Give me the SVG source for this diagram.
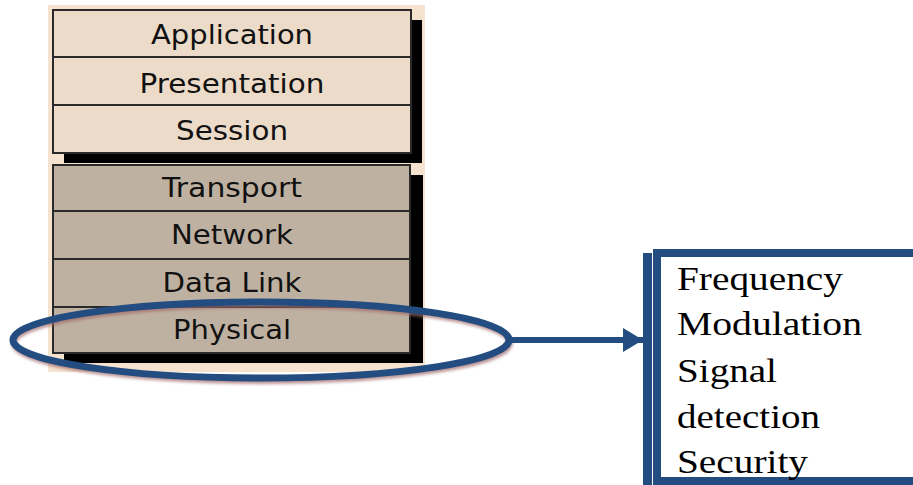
<svg xmlns="http://www.w3.org/2000/svg" width="913" height="485" viewBox="0 0 913 485">
<defs>
<style>
.top{fill:#ecdbc8;stroke:#2a2a2a;stroke-width:2}
.bot{fill:#bfb1a1;stroke:#2a2a2a;stroke-width:2}
.lbl{font-family:"DejaVu Sans",sans-serif;font-size:26px;fill:#111;text-anchor:middle}
.item{font-family:"Liberation Serif",serif;font-size:34px;fill:#000}
.blue{stroke:#234c80;fill:none}
</style>
<marker id="ah" markerWidth="22" markerHeight="26" refX="20" refY="12" orient="auto" markerUnits="userSpaceOnUse">
<path d="M0,0 L20,12 L0,24 Z" fill="#234c80"/>
</marker>
<filter id="blur" x="-10%" y="-30%" width="120%" height="160%"><feGaussianBlur stdDeviation="1.5"/></filter>
</defs>
<rect width="913" height="485" fill="#fff"/>
<rect x="48" y="5" width="377" height="367" fill="#f5e3cf"/>
<g id="upper-layers">
<rect x="64" y="20" width="358" height="143" fill="#000"/>
<g id="application"><rect class="top" x="53" y="10" width="358" height="47"/><text class="lbl" x="232" y="44" textLength="162" lengthAdjust="spacingAndGlyphs">Application</text></g>
<g id="presentation"><rect class="top" x="53" y="57" width="358" height="48"/><text class="lbl" x="232" y="93" textLength="185" lengthAdjust="spacingAndGlyphs">Presentation</text></g>
<g id="session"><rect class="top" x="53" y="105" width="358" height="48"/><text class="lbl" x="232" y="140" textLength="112" lengthAdjust="spacingAndGlyphs">Session</text></g>
</g>
<g id="lower-layers">
<rect x="64" y="175" width="359" height="188" fill="#000"/>
<g id="transport"><rect class="bot" x="53" y="165" width="357" height="46"/><text class="lbl" x="232" y="197" textLength="140" lengthAdjust="spacingAndGlyphs">Transport</text></g>
<g id="network"><rect class="bot" x="53" y="211" width="357" height="48"/><text class="lbl" x="232" y="244" textLength="122" lengthAdjust="spacingAndGlyphs">Network</text></g>
<g id="datalink"><rect class="bot" x="53" y="259" width="357" height="48"/><text class="lbl" x="232" y="292" textLength="139" lengthAdjust="spacingAndGlyphs">Data Link</text></g>
<g id="physical"><rect class="bot" x="53" y="307" width="357" height="46"/><text class="lbl" x="232" y="339" textLength="118" lengthAdjust="spacingAndGlyphs">Physical</text></g>
</g>
<g id="highlight">
<ellipse cx="262" cy="343" rx="248" ry="38" fill="none" stroke="#a06a6a" stroke-opacity="0.7" stroke-width="6" filter="url(#blur)"/>
<ellipse class="blue" cx="261" cy="340" rx="248" ry="38" stroke-width="7"/>
</g>
<g id="connectors">
<line class="blue" x1="508" y1="340" x2="643" y2="340" stroke-width="6" marker-end="url(#ah)"/>
</g>
<g id="functions">
<rect x="643" y="253" width="9" height="232" fill="#234c80"/>
<path class="blue" d="M657,490 V253 H920 M657,481 H920" stroke-width="8"/>
<text class="item" x="677" y="290" textLength="166" lengthAdjust="spacingAndGlyphs">Frequency</text>
<text class="item" x="677" y="335" textLength="185" lengthAdjust="spacingAndGlyphs">Modulation</text>
<text class="item" x="677" y="382" textLength="100" lengthAdjust="spacingAndGlyphs">Signal</text>
<text class="item" x="677" y="428" textLength="143" lengthAdjust="spacingAndGlyphs">detection</text>
<text class="item" x="677" y="473" textLength="131" lengthAdjust="spacingAndGlyphs">Security</text>
</g>
</svg>
